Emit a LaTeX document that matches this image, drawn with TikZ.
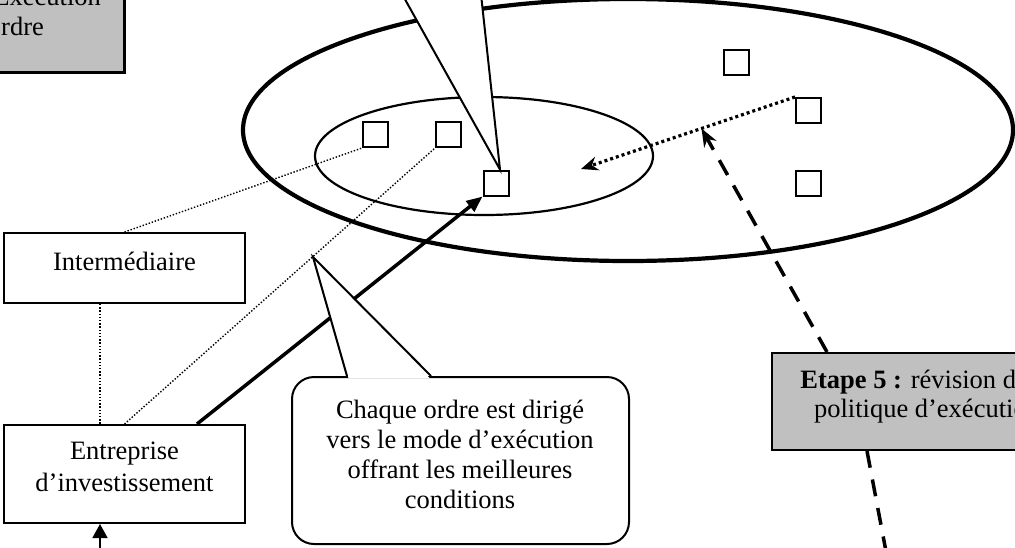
\documentclass[tikz,border=0pt]{standalone}
\usepackage{fontspec}
\setmainfont{Liberation Serif}
\usetikzlibrary{arrows.meta,calc}
\definecolor{silver}{RGB}{192,192,192}
\begin{document}
\begin{tikzpicture}[x=1pt,y=-1pt,
  sq/.style={draw, line width=2pt, minimum size=25pt, inner sep=0pt},
  box/.style={draw, line width=2pt, inner sep=0pt, fill=white},
  graybox/.style={draw, line width=2pt, inner sep=0pt, fill=silver},
  txt/.style={anchor=base, inner sep=0pt, font=\fontsize{26.5}{30.5}\selectfont},
  thindot/.style={line width=1.4pt, dash pattern=on 1.4pt off 1.8pt},
  thickdot/.style={line width=3.2pt, dash pattern=on 3pt off 3pt},
  thickdash/.style={line width=3.5pt, dash pattern=on 17pt off 12pt},
  calloutline/.style={line width=2pt, line join=miter},
  bigline/.style={line width=3.5pt}]
\useasboundingbox (0,0) rectangle (1015,547);
\clip (0,0) rectangle (1015,547);

% top-left gray box (Etape 4)
\node[graybox, line width=3pt, minimum width=264pt, minimum height=102pt] (e4) at (-8,21) {};
\node[txt] (e4a) at (-8,5) {\textbf{Etape 4 :} Exécution};
\node[txt] (e4b) at (-8,35) {de l’ordre};

% ellipses
\draw[line width=4.2pt] (628,130) ellipse [x radius=385, y radius=131];
\draw[line width=2.2pt] (484,156) ellipse [x radius=169, y radius=59];

% squares
\node[sq] (s1) at (375.5,134.5) {};
\node[sq] (s2) at (448.5,134.5) {};
\node[sq] (s3) at (496,183) {};
\node[sq] (s4) at (736.5,62.5) {};
\node[sq] (s5) at (808.5,110.5) {};
\node[sq] (s6) at (808.5,183) {};

% boxes
\node[box, minimum width=241pt, minimum height=70pt] (interm) at (124.5,268) {};
\node[txt] (intermt) at (124.5,270) {Intermédiaire};
\node[box, minimum width=241pt, minimum height=98pt] (entr) at (124.5,474) {};
\node[txt] (entrt1) at (124.5,459) {Entreprise};
\node[txt] (entrt2) at (124.5,491) {d’investissement};
\node[graybox, minimum width=310pt, minimum height=97pt] (e5) at (927,401.5) {};
\node[txt] (e5a) at (927,388) {\textbf{Etape 5 :} révision de la};
\node[txt] (e5b) at (927,417) {politique d’exécution};

% thin dotted connectors
\draw[thindot] (interm.north) -- (s1.south west);
\draw[thindot] ($(interm.south)+(-24.5,0)$) -- ($(entr.north)+(-24.5,0)$);
\draw[thindot] (entr.north) -- (s2.south west);

% thick solid arrow
\draw[bigline, -{Triangle[length=16pt,width=13pt]}] ($(entr.north)+(72.5,0)$) -- (s3.south west);

% arrow from below into Entreprise
\coordinate (below) at (100,560);
\draw[line width=1.6pt, -{Triangle[length=14pt,width=15pt]}] (below) -- ($(entr.south)+(-24.5,0)$);

% thick dotted arrow
\coordinate (dotend) at (581,169);
\draw[thickdot, -{Stealth[length=17pt,width=14pt]}] (s5.north west) -- (dotend);

% dashed connectors from Etape 5
\coordinate (dashtip) at ($(s5.north west)!0.437!(dotend)$);
\draw[thickdash, -{Stealth[length=18pt,width=14pt]}] ($(e5.north west)+(56,0)$) -- (dashtip);
\coordinate (dashbot) at (888,562);
\draw[thickdash] ($(e5.south west)+(96,0)$) -- (dashbot);

% bottom callout
\node[draw, line width=2pt, fill=white, rounded corners=22pt, minimum width=337pt, minimum height=167pt, inner sep=0pt] (callb) at (460.5,460.5) {};
\coordinate (cbtip) at (313,257);
\coordinate (cbl) at ($(callb.north west)+(56,0)$);
\coordinate (cbr) at ($(callb.north west)+(140,0)$);
\fill[white] ($(cbl)+(1.5,2)$) -- (cbtip) -- ($(cbr)+(-1.5,2)$) -- cycle;
\draw[calloutline] (cbl) -- (cbtip) -- (cbr);
\node[txt] (cb1) at (460,418) {Chaque ordre est dirigé};
\node[txt] (cb2) at (460,448) {vers le mode d’exécution};
\node[txt] (cb3) at (460,478) {offrant les meilleures};
\node[txt] (cb4) at (460,508) {conditions};

% top callout pointer
\coordinate (cttip) at ($(s3.north)+(4,0)$);
\coordinate (ctl) at (397,-15);
\coordinate (ctr) at (480,-15);
\fill[white] (ctl) -- (cttip) -- (ctr) -- cycle;
\draw[calloutline] (ctl) -- (cttip) -- (ctr);
\end{tikzpicture}
\end{document}
